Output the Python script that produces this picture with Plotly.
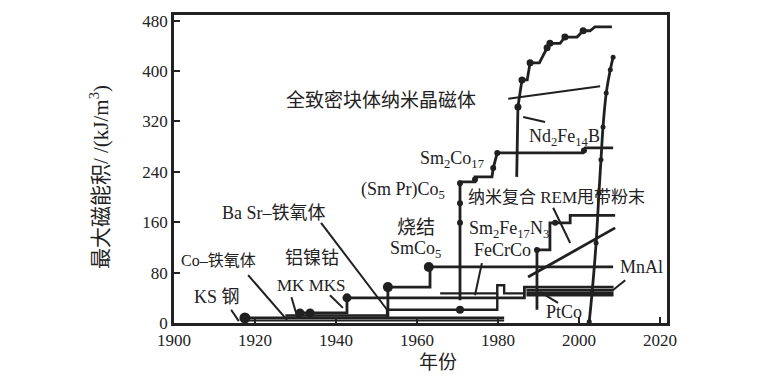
import plotly.graph_objects as go

# ---------------- data (year, (BH)max kJ/m3) ----------------
ndfeb_year = [1984.6, 1984.9, 1985.9, 1987.2, 1987.9, 1990.2, 1992.1, 1992.8, 1995.3, 1996.5, 1999.5, 2001.0, 2002.7, 2003.9, 2008.1]
ndfeb_bh = [232, 343, 386, 386, 413, 413, 437, 444, 444, 454, 454, 464, 464, 470, 470]
ndfeb_dot_year = [1984.9, 1985.9, 1987.9, 1992.1, 1992.8, 1996.5, 2001.0]
ndfeb_dot_bh = [343, 386, 413, 437, 444, 454, 464]

smco17_year = [1970.6, 1970.6, 1974.3, 1974.3, 1978.5, 1978.8, 1979.8, 2001.0, 2001.5, 2008.4]
smco17_bh = [36, 224, 224, 232, 232, 246, 270, 270, 278, 278]
smco17_dot_year = [1970.6, 1970.6, 1970.6, 1974.3, 1978.8, 1979.8, 2001.2]
smco17_dot_bh = [159, 190, 222, 228, 246, 270, 274]

nano_year = [2002.5, 2003.2, 2004.2, 2004.9, 2005.4, 2005.9, 2006.7, 2007.7, 2008.4]
nano_bh = [2, 48, 127, 206, 259, 311, 365, 402, 422]

smfen_year = [1989.6, 1989.6, 1992.8, 1992.8, 1997.8, 1997.8, 2008.9]
smfen_bh = [21, 116, 116, 159, 159, 171, 171]
smfen_dot_year = [1989.6, 1994.1]
smfen_dot_bh = [116, 159]

rem_year = [1987.4, 2008.9]
rem_bh = [73, 151]

smco5_year = [1952.8, 1952.8, 1963.2, 1963.2, 2008.4]
smco5_bh = [9, 57, 57, 89, 89]
smco5_dot_year = [1952.8, 1962.9]
smco5_dot_bh = [57, 89]

alnico_year = [1930.5, 1942.7, 1942.7, 1986.5, 1986.5, 2008.5]
alnico_bh = [16, 16, 40, 40, 57, 57]
alnico_dot_year = [1931.1, 1933.6, 1942.7]
alnico_dot_bh = [16, 16, 40]

band_year = [1987.0, 2008.5]
band_bh_a = [52, 52]
band_bh_b = [48, 48]
band_bh_c = [44, 44]

ptco_year = [1965.7, 1979.8, 1979.8, 1981.5, 1981.5, 1986.5]
ptco_bh = [47, 47, 60, 60, 47, 47]

ferrite_year = [1927.5, 1952.6, 1952.6, 1970.6, 1970.6, 1979.8, 1979.8]
ferrite_bh = [12, 12, 21, 21, 21, 21, 47]
ferrite_dot_year = [1970.6]
ferrite_dot_bh = [21]

ks_year = [1917.5, 1981.5]
ks_bh = [8, 8]
ks_dot_year = [1917.5]
ks_dot_bh = [8]

steel_year = [1916.8, 1981.5]
steel_bh = [4, 4]

# ---------------- labels ----------------
label_text = ["全致密块体纳米晶磁体", "Nd<sub>2</sub>Fe<sub>14</sub>B", "Sm<sub>2</sub>Co<sub>17</sub>",
              "(Sm Pr)Co<sub>5</sub>", "纳米复合 REM甩带粉末", "Ba Sr–铁氧体", "烧结",
              "Sm<sub>2</sub>Fe<sub>17</sub>N<sub>3</sub>", "SmCo<sub>5</sub>", "FeCrCo", "Co–铁氧体",
              "铝镍钴", "MK MKS", "KS 钢", "MnAl", "PtCo"]
label_year = [1951.1, 1996.5, 1968.6, 1956.5, 1994.3, 1924.7, 1959.8, 1982.7, 1959.5, 1981.0,
              1911.1, 1934.0, 1934.0, 1910.6, 2015.3, 1996.3]
label_bh = [354, 294, 259, 211, 200, 175, 151, 148, 116, 116, 100, 103, 60, 41, 89, 17]
label_size = [19, 18, 18, 18, 17, 18, 19, 18, 18, 18, 16, 18, 17, 18, 18, 18]

leader_year = [[1982.5, 2005.2], [1986.2, 1991.6], [1993.6, 1997.8], [1936.3, 1952.6],
               [1918.3, 1927.9], [1914.1, 1916.0], [1929.0, 1930.4], [1938.5, 1941.7],
               [1976.0, 1974.3], [2011.4, 2008.3], [1990.4, 1994.8]]
leader_bh = [[356, 376], [327, 319], [183, 127], [159, 21], [76, 5], [21, 3], [41, 10],
             [44, 24], [95, 44], [68, 52], [49, 32]]

x_ticks = [1900, 1920, 1940, 1960, 1980, 2000, 2020]
y_ticks = [0, 80, 160, 240, 320, 400, 480]

LINE = "#202020"
fig = go.Figure()

def add_line(xs, ys, w=2.8):
    fig.add_trace(go.Scatter(x=xs, y=ys, mode="lines", line=dict(color=LINE, width=w),
                             hoverinfo="skip", showlegend=False))

def add_dots(xs, ys, s=9):
    fig.add_trace(go.Scatter(x=xs, y=ys, mode="markers", marker=dict(color=LINE, size=s),
                             hoverinfo="skip", showlegend=False))

add_line(steel_year, steel_bh, 2.2)
add_line(ks_year, ks_bh)
add_line(ferrite_year, ferrite_bh, 2.4)
add_line(alnico_year, alnico_bh)
add_line(ptco_year, ptco_bh, 2.4)
add_line(band_year, band_bh_a, 2.4)
add_line(band_year, band_bh_b, 2.4)
add_line(band_year, band_bh_c, 2.4)
add_line(smco5_year, smco5_bh)
add_line(smco17_year, smco17_bh)
add_line(smfen_year, smfen_bh)
add_line(rem_year, rem_bh)
add_line(ndfeb_year, ndfeb_bh)
fig.add_trace(go.Scatter(x=nano_year, y=nano_bh, mode="lines+markers",
                         line=dict(color=LINE, width=2.8, shape="spline"),
                         marker=dict(color=LINE, size=5), hoverinfo="skip", showlegend=False))

add_dots(ks_dot_year, ks_dot_bh, 11)
add_dots(alnico_dot_year, alnico_dot_bh, 9)
add_dots(smco5_dot_year, smco5_dot_bh, 10)
add_dots(ferrite_dot_year, ferrite_dot_bh, 8)
add_dots(smco17_dot_year, smco17_dot_bh, 6)
add_dots(ndfeb_dot_year, ndfeb_dot_bh, 7)
add_dots(smfen_dot_year, smfen_dot_bh, 6)

for lx, ly in zip(leader_year, leader_bh):
    add_line(lx, ly, 2)

FONT = "'Liberation Serif', 'Noto Sans CJK SC', serif"
for t, x, y, s in zip(label_text, label_year, label_bh, label_size):
    fig.add_annotation(x=x, y=y, text=t, showarrow=False, xanchor="center", yanchor="middle",
                       font=dict(family=FONT, size=s, color="#222"))

fig.add_annotation(xref="paper", yref="paper", x=-0.152, y=0.474,
                   text="最大磁能积/ /(kJ/m<sup>3</sup>)",
                   textangle=-90, showarrow=False, xanchor="center", yanchor="middle",
                   font=dict(family=FONT, size=21, color="#222"))
fig.add_annotation(xref="paper", yref="paper", x=0.535, y=-0.127, text="年份",
                   showarrow=False, xanchor="center", yanchor="middle",
                   font=dict(family=FONT, size=19, color="#222"))

# page body adds an 8px margin, so the figure is sized/offset to compensate
fig.update_layout(
    width=762, height=377, margin=dict(l=166, r=103, t=7, b=62, autoexpand=False),
    paper_bgcolor="white", plot_bgcolor="white",
    xaxis=dict(range=[1900, 2021.7], tickvals=x_ticks, ticks="inside", ticklen=6, tickwidth=2,
               tickcolor="#222", showline=True, linecolor="#222", linewidth=2.5, mirror=True,
               showgrid=False, zeroline=False, automargin=False,
               tickfont=dict(family=FONT, size=17, color="#222")),
    yaxis=dict(range=[0, 489], tickvals=y_ticks, ticks="inside", ticklen=6, tickwidth=2,
               tickcolor="#222", showline=True, linecolor="#222", linewidth=2.5, mirror=True,
               showgrid=False, zeroline=False, automargin=False,
               tickfont=dict(family=FONT, size=17, color="#222")),
)

fig.write_html("out.html")
